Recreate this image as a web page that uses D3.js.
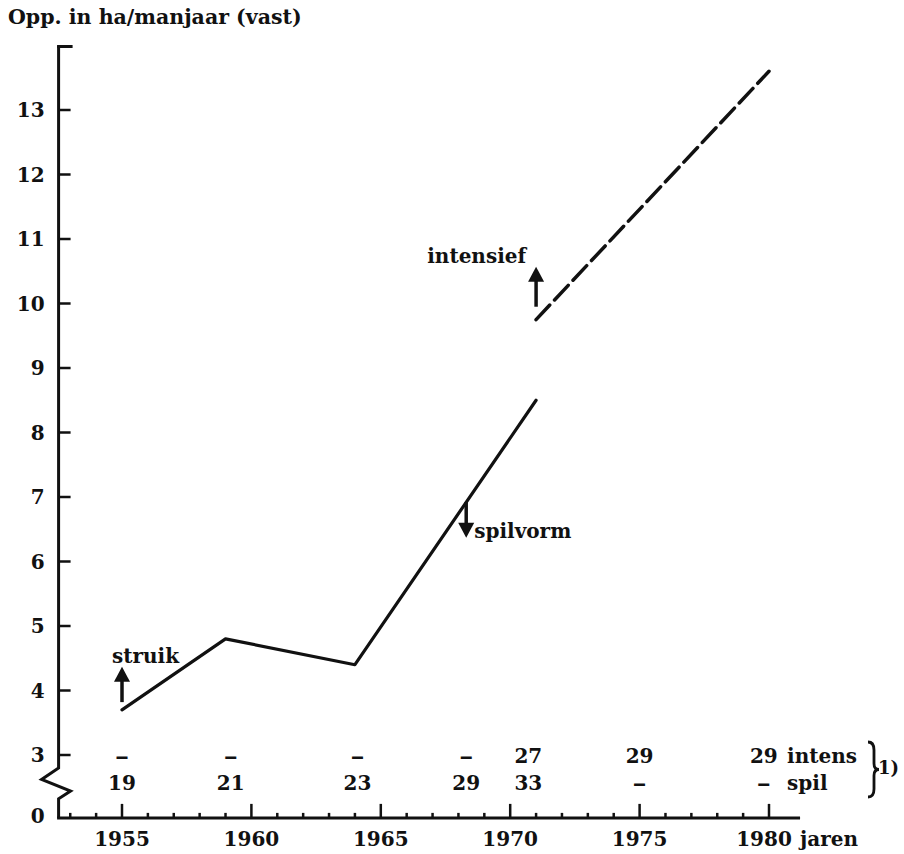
<!DOCTYPE html>
<html>
<head>
<meta charset="utf-8">
<script src="https://cdn.jsdelivr.net/npm/d3@7"></script>
<style>
  html, body { margin: 0; padding: 0; background: #fff; }
  svg text { font-family: "DejaVu Serif", serif; font-weight: bold; fill: #111; }
</style>
</head>
<body>
<svg id="chart" width="904" height="854"></svg>
<script>
// ---- data ----
const solidYears = [1955, 1959, 1964, 1971];
const solidValues = [3.7, 4.8, 4.4, 8.5];
const dashYears = [1971, 1980];
const dashValues = [9.75, 13.6];
const yTickValues = [3, 4, 5, 6, 7, 8, 9, 10, 11, 12, 13];
const xMajorTicks = [1955, 1960, 1965, 1970, 1975, 1980];
const xMinorTicks = d3.range(1953, 1981);
const tableCols = [1955, 1959.2, 1964.1, 1968.3, 1970.7, 1975, 1979.8];
const intensRow = ["–", "–", "–", "–", "27", "29", "29"];
const spilRow = ["19", "21", "23", "29", "33", "–", "–"];
const rowNames = ["intens", "spil"];
const annotations = [
  { text: "struik", year: 1955, from: 3.82, to: 4.37, dir: "up" },
  { text: "intensief", year: 1971, from: 9.95, to: 10.57, dir: "up" },
  { text: "spilvorm", year: 1968.3, from: 6.92, to: 6.37, dir: "down" }
];
const title = "Opp. in ha/manjaar (vast)";
const xTitle = "jaren";

// ---- scales ----
const svg = d3.select("#chart");
const x = d3.scaleLinear().domain([1955, 1980]).range([122, 769]);
const y = d3.scaleLinear().domain([3, 13]).range([755, 110]);
const axisX = x(1952.55);
const baseY = y(2.025);   // position of broken "0" baseline
const topY = y(14.0);

const ink = "#111";
const fs = 20;

// title
svg.append("text").attr("x", 8).attr("y", 24).attr("font-size", 20.5).text(title);

// y axis with break
const brk = [y(2.8), y(2.62), y(2.44), y(2.32)];
svg.append("path")
  .attr("d", `M${axisX},${topY} L${axisX},${brk[0]} L${axisX - 17},${brk[1]} L${axisX + 12},${brk[2]} L${axisX},${brk[3]} L${axisX},${baseY}`)
  .attr("fill", "none").attr("stroke", ink).attr("stroke-width", 3).attr("stroke-linejoin", "miter");
// top cap
svg.append("line").attr("x1", axisX - 1.5).attr("x2", axisX + 14).attr("y1", topY + 1).attr("y2", topY + 1)
  .attr("stroke", ink).attr("stroke-width", 3);

// y ticks
const gy = svg.append("g");
gy.selectAll("line").data(yTickValues).join("line")
  .attr("x1", axisX).attr("x2", axisX + 12)
  .attr("y1", d => y(d)).attr("y2", d => y(d))
  .attr("stroke", ink).attr("stroke-width", 2.5);
gy.selectAll("text").data(yTickValues).join("text")
  .attr("x", axisX - 14).attr("y", d => y(d)).attr("dy", "0.36em")
  .attr("text-anchor", "end").attr("font-size", fs).text(d => d);
svg.append("text").attr("x", axisX - 14).attr("y", baseY - 2).attr("dy", "0.36em")
  .attr("text-anchor", "end").attr("font-size", fs).text("0");

// x axis
svg.append("line").attr("x1", axisX - 1.5).attr("x2", x(1981.2)).attr("y1", baseY).attr("y2", baseY)
  .attr("stroke", ink).attr("stroke-width", 3);
svg.append("g").selectAll("line").data(xMinorTicks).join("line")
  .attr("x1", d => x(d)).attr("x2", d => x(d))
  .attr("y1", baseY).attr("y2", d => baseY - (xMajorTicks.includes(d) ? 14 : 5))
  .attr("stroke", ink).attr("stroke-width", 2.5);
svg.append("g").selectAll("text").data(xMajorTicks).join("text")
  .attr("x", d => x(d) - (d === 1980 ? 5 : 0)).attr("y", baseY + 28)
  .attr("text-anchor", "middle").attr("font-size", fs).text(d => d);
svg.append("text").attr("x", x(1981.2)).attr("y", baseY + 28).attr("font-size", fs).text(xTitle);

// lines
const line = d3.line().x(d => x(d[0])).y(d => y(d[1]));
svg.append("path").datum(d3.zip(solidYears, solidValues)).attr("d", line)
  .attr("fill", "none").attr("stroke", ink).attr("stroke-width", 3.2).attr("stroke-linejoin", "round").attr("stroke-linecap", "round");
svg.append("path").datum(d3.zip(dashYears, dashValues)).attr("d", line)
  .attr("fill", "none").attr("stroke", ink).attr("stroke-width", 3.5).attr("stroke-dasharray", "20,7").attr("stroke-linecap", "round");

// arrows + labels
annotations.forEach(a => {
  const ax = x(a.year), y0 = y(a.from), y1 = y(a.to);
  const s = a.dir === "up" ? 1 : -1;
  svg.append("line").attr("x1", ax).attr("x2", ax).attr("y1", y0).attr("y2", y1 + s * 12)
    .attr("stroke", ink).attr("stroke-width", 3.5);
  svg.append("path").attr("d", `M${ax - 8},${y1 + s * 15} L${ax + 8},${y1 + s * 15} L${ax},${y1} Z`).attr("fill", ink);
  if (a.dir === "up") {
    svg.append("text").attr("x", ax - 10).attr("y", y1 - 4)
      .attr("text-anchor", a.text === "struik" ? "start" : "end").attr("font-size", fs).text(a.text);
  } else {
    svg.append("text").attr("x", ax + 8).attr("y", y1).attr("font-size", fs).text(a.text);
  }
});

// table rows under the curve
const rowY = [y(3) + 1, y(3) + 28];
[intensRow, spilRow].forEach((row, i) => {
  const g = svg.append("g");
  g.selectAll("text").data(row).join("text")
    .attr("x", (d, j) => x(tableCols[j])).attr("y", rowY[i]).attr("dy", "0.36em")
    .attr("text-anchor", "middle").attr("font-size", fs)
    .each(function (d) {
      if (d === "–") d3.select(this).attr("textLength", 14).attr("lengthAdjust", "spacingAndGlyphs");
    })
    .text(d => d);
  svg.append("text").attr("x", x(1980.7)).attr("y", rowY[i]).attr("dy", "0.36em")
    .attr("font-size", fs).text(rowNames[i]);
});
// brace
const bx = 872, bt = rowY[0] - 14, bb = rowY[1] + 14, bm = (bt + bb) / 2;
svg.append("path")
  .attr("d", `M${bx - 4},${bt} Q${bx + 2},${bt} ${bx + 2},${bt + 8} L${bx + 2},${bm - 6} Q${bx + 2},${bm} ${bx + 7},${bm} Q${bx + 2},${bm} ${bx + 2},${bm + 6} L${bx + 2},${bb - 8} Q${bx + 2},${bb} ${bx - 4},${bb}`)
  .attr("fill", "none").attr("stroke", ink).attr("stroke-width", 2.8);
svg.append("text").attr("x", bx + 6).attr("y", bm - 2).attr("dy", "0.36em").attr("font-size", 18).text("1)");
</script>
</body>
</html>
